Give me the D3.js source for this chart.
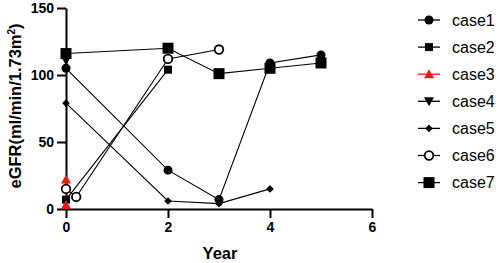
<!DOCTYPE html>
<html lang="en">
<head>
<meta charset="UTF-8">
<title>eGFR by year</title>
<script src="https://d3js.org/d3.v7.min.js"></script>
<style>
  body { margin: 0; background: #fff; }
  text { font-family: "Liberation Sans", Arial, sans-serif; }
</style>
</head>
<body>
<div id="chart"></div>
<script>
// values: [year, eGFR]
const case1 = [[0, 105], [2, 29], [3, 7], [4, 109], [5, 115]];
const case2 = [[0, 7], [2, 104]];
const case3 = [[0, 22], [0, 3]];
const case4 = [[0, 111]];
const case5 = [[0, 79], [2, 6], [3, 4], [4, 15]];
const case6 = [[0, 15], [0.2, 9], [2, 112], [3, 119]];
const case7 = [[0, 116], [2, 120], [3, 101], [4, 105], [5, 109]];

const caseNames = ["case1", "case2", "case3", "case4", "case5", "case6", "case7"];
const xTicks = [0, 2, 4, 6];
const yTicks = [0, 50, 100, 150];

const series = [case1, case2, case3, case4, case5, case6, case7];
const colors = ["#000", "#000", "#e8191a", "#000", "#000", "#000", "#000"];
const shapes = ["circle", "square", "triUp", "triDown", "diamond", "openCircle", "bigSquare"];

const W = 500, H = 263;
const svg = d3.select("#chart").append("svg")
    .attr("width", W).attr("height", H);

const x = d3.scaleLinear().domain([0, 6]).range([66, 372]);
const y = d3.scaleLinear().domain([0, 150]).range([209, 8]);

// axes
const yAxis = svg.append("g")
    .attr("transform", `translate(${x(0)},0)`)
    .call(d3.axisLeft(y).tickValues(yTicks).tickFormat(d3.format("d"))
      .tickSize(9).tickPadding(3).tickSizeOuter(0));
const xAxis = svg.append("g")
    .attr("transform", `translate(0,${y(0)})`)
    .call(d3.axisBottom(x).tickValues(xTicks).tickFormat(d3.format("d"))
      .tickSize(9).tickPadding(4).tickSizeOuter(0));

[xAxis, yAxis].forEach(a => {
  a.select(".domain").attr("stroke", "#000").attr("stroke-width", 2);
  a.selectAll(".tick line").attr("stroke", "#000").attr("stroke-width", 2);
  a.selectAll(".tick text")
    .attr("fill", "#000")
    .style("font-family", "'Liberation Sans', Arial, sans-serif")
    .style("font-size", "14px")
    .style("font-weight", "bold");
});

svg.append("text")
    .attr("x", 220).attr("y", 259)
    .attr("text-anchor", "middle")
    .style("font-size", "16.5px").style("font-weight", "bold")
    .text("Year");

const yTitle = svg.append("text")
    .attr("transform", "translate(21,106) rotate(-90)")
    .attr("text-anchor", "middle")
    .style("font-size", "16.5px").style("font-weight", "bold");
yTitle.append("tspan").text("eGFR(ml/min/1.73m");
yTitle.append("tspan").attr("dy", -6).style("font-size", "10px").text("2");
yTitle.append("tspan").attr("dy", 6).text(")");

// marker drawing
function marker(g, shape, color) {
  switch (shape) {
    case "circle":
      g.append("circle").attr("r", 4.5).attr("fill", color);
      break;
    case "openCircle":
      g.append("circle").attr("r", 4.3).attr("fill", "#fff")
        .attr("stroke", color).attr("stroke-width", 1.8);
      break;
    case "square":
      g.append("rect").attr("x", -4).attr("y", -4).attr("width", 8).attr("height", 8).attr("fill", color);
      break;
    case "bigSquare":
      g.append("rect").attr("x", -5.5).attr("y", -5.5).attr("width", 11).attr("height", 11).attr("fill", color);
      break;
    case "triUp":
      g.append("path").attr("d", "M0,-5L5,4L-5,4Z").attr("fill", color);
      break;
    case "triDown":
      g.append("path").attr("d", "M0,5L5,-4L-5,-4Z").attr("fill", color);
      break;
    case "diamond":
      g.append("path").attr("d", "M0,-3.8L3.8,0L0,3.8L-3.8,0Z").attr("fill", color);
      break;
  }
}

const line = d3.line().x(d => x(d[0])).y(d => y(d[1]));

// lines first, then markers on top
series.forEach((s, i) => {
  svg.append("path")
    .attr("d", line(s))
    .attr("fill", "none")
    .attr("stroke", colors[i])
    .attr("stroke-width", 1.1);
});
series.forEach((s, i) => {
  s.forEach(d => {
    const g = svg.append("g").attr("transform", `translate(${x(d[0])},${y(d[1])})`);
    marker(g, shapes[i], colors[i]);
  });
});

// legend
const legend = svg.append("g").attr("transform", "translate(418,20)");
caseNames.forEach((name, i) => {
  const row = legend.append("g").attr("transform", `translate(0,${i * 27.1})`);
  row.append("line").attr("x1", 0).attr("x2", 22)
    .attr("stroke", colors[i]).attr("stroke-width", 1.3);
  marker(row.append("g").attr("transform", "translate(11,0)"), shapes[i], colors[i]);
  row.append("text")
    .attr("x", 34).attr("y", 0).attr("dy", "0.35em")
    .style("font-size", "16px")
    .attr("fill", "#000")
    .text(name);
});
</script>
</body>
</html>
